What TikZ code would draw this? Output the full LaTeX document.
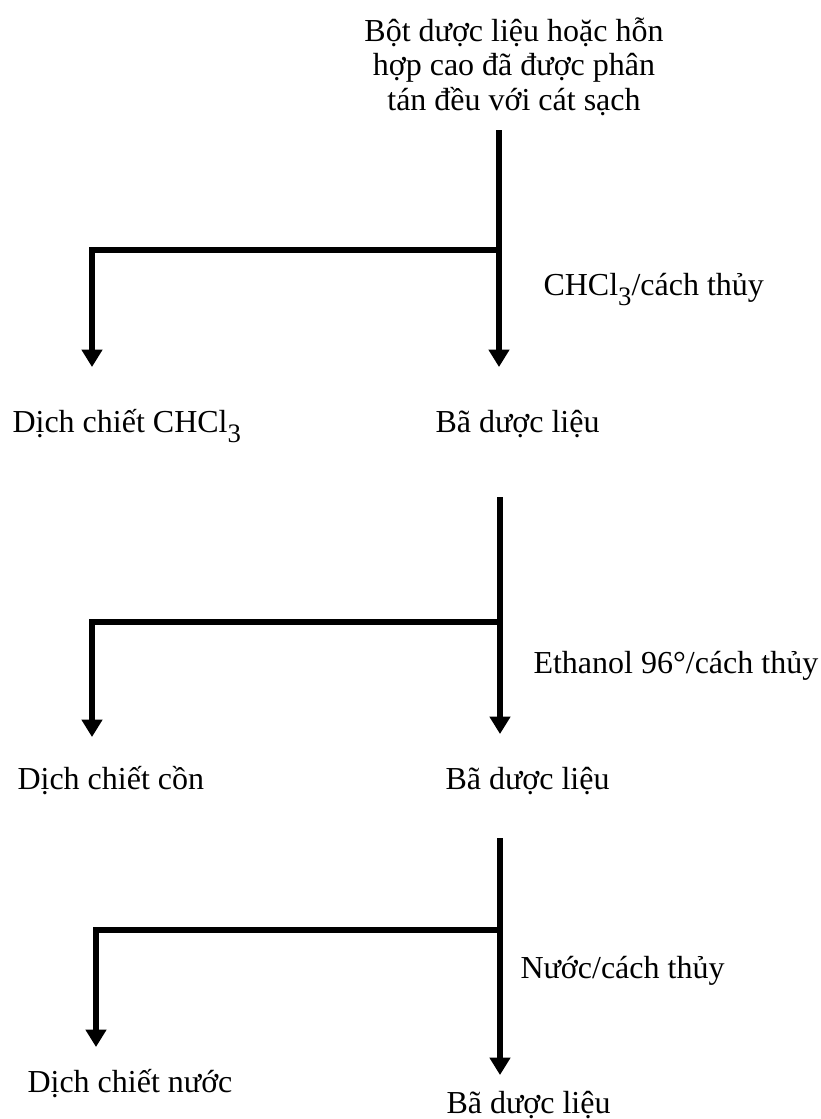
\documentclass[tikz,border=0pt]{standalone}
\usepackage{fontspec}
\setmainfont{Liberation Serif}
\usetikzlibrary{arrows.meta}
\newcommand{\subthree}{\raisebox{-4pt}{\fontsize{10}{10}\selectfont 3}}

\begin{document}
\begin{tikzpicture}[x=0.375pt,y=-0.375pt,
    lbl/.style={font=\fontsize{12}{12.8}\selectfont,inner sep=0pt,anchor=base west},
    flow/.style={line width=1.9pt,line join=miter,-{Triangle[width=7.5pt,length=6.5pt]}}]
    \useasboundingbox (0,0) rectangle (821,1119);

    \node[lbl,anchor=base,align=center] (start) at (514,110) {Bột dược liệu hoặc hỗn\\hợp cao đã được phân\\tán đều với cát sạch};

    % CHCl3
    \node[lbl] (sol1) at (543,295) {CHCl\subthree/cách thủy};
    \node[lbl] (ext1) at (12,432) {Dịch chiết CHCl\subthree};
    \node[lbl] (res1) at (435,432) {Bã dược liệu};
    \coordinate (top1) at (499,130);
    \coordinate (br1) at (499,250);
    \coordinate (tip1) at (499,367);
    \coordinate (lc1) at (92,250);
    \coordinate (lt1) at (92,367);
    \path[flow,draw] (top1) -- (tip1);
    \path[flow,draw] (br1) -- (lc1) -- (lt1);

    % ethanol
    \node[lbl] (sol2) at (533,673) {Ethanol 96°/cách thủy};
    \node[lbl] (ext2) at (17,789) {Dịch chiết cồn};
    \node[lbl] (res2) at (445,789) {Bã dược liệu};
    \coordinate (top2) at (500,497);
    \coordinate (br2) at (500,622);
    \coordinate (tip2) at (500,734);
    \coordinate (lc2) at (92,622);
    \coordinate (lt2) at (92,737);
    \path[flow,draw] (top2) -- (tip2);
    \path[flow,draw] (br2) -- (lc2) -- (lt2);

    % nuoc
    \node[lbl] (sol3) at (520,978) {Nước/cách thủy};
    \node[lbl] (ext3) at (27,1092) {Dịch chiết nước};
    \node[lbl] (res3) at (446,1113) {Bã dược liệu};
    \coordinate (top3) at (500,838);
    \coordinate (br3) at (500,930);
    \coordinate (tip3) at (500,1075);
    \coordinate (lc3) at (96,930);
    \coordinate (lt3) at (96,1047);
    \path[flow,draw] (top3) -- (tip3);
    \path[flow,draw] (br3) -- (lc3) -- (lt3);
\end{tikzpicture}
\end{document}
